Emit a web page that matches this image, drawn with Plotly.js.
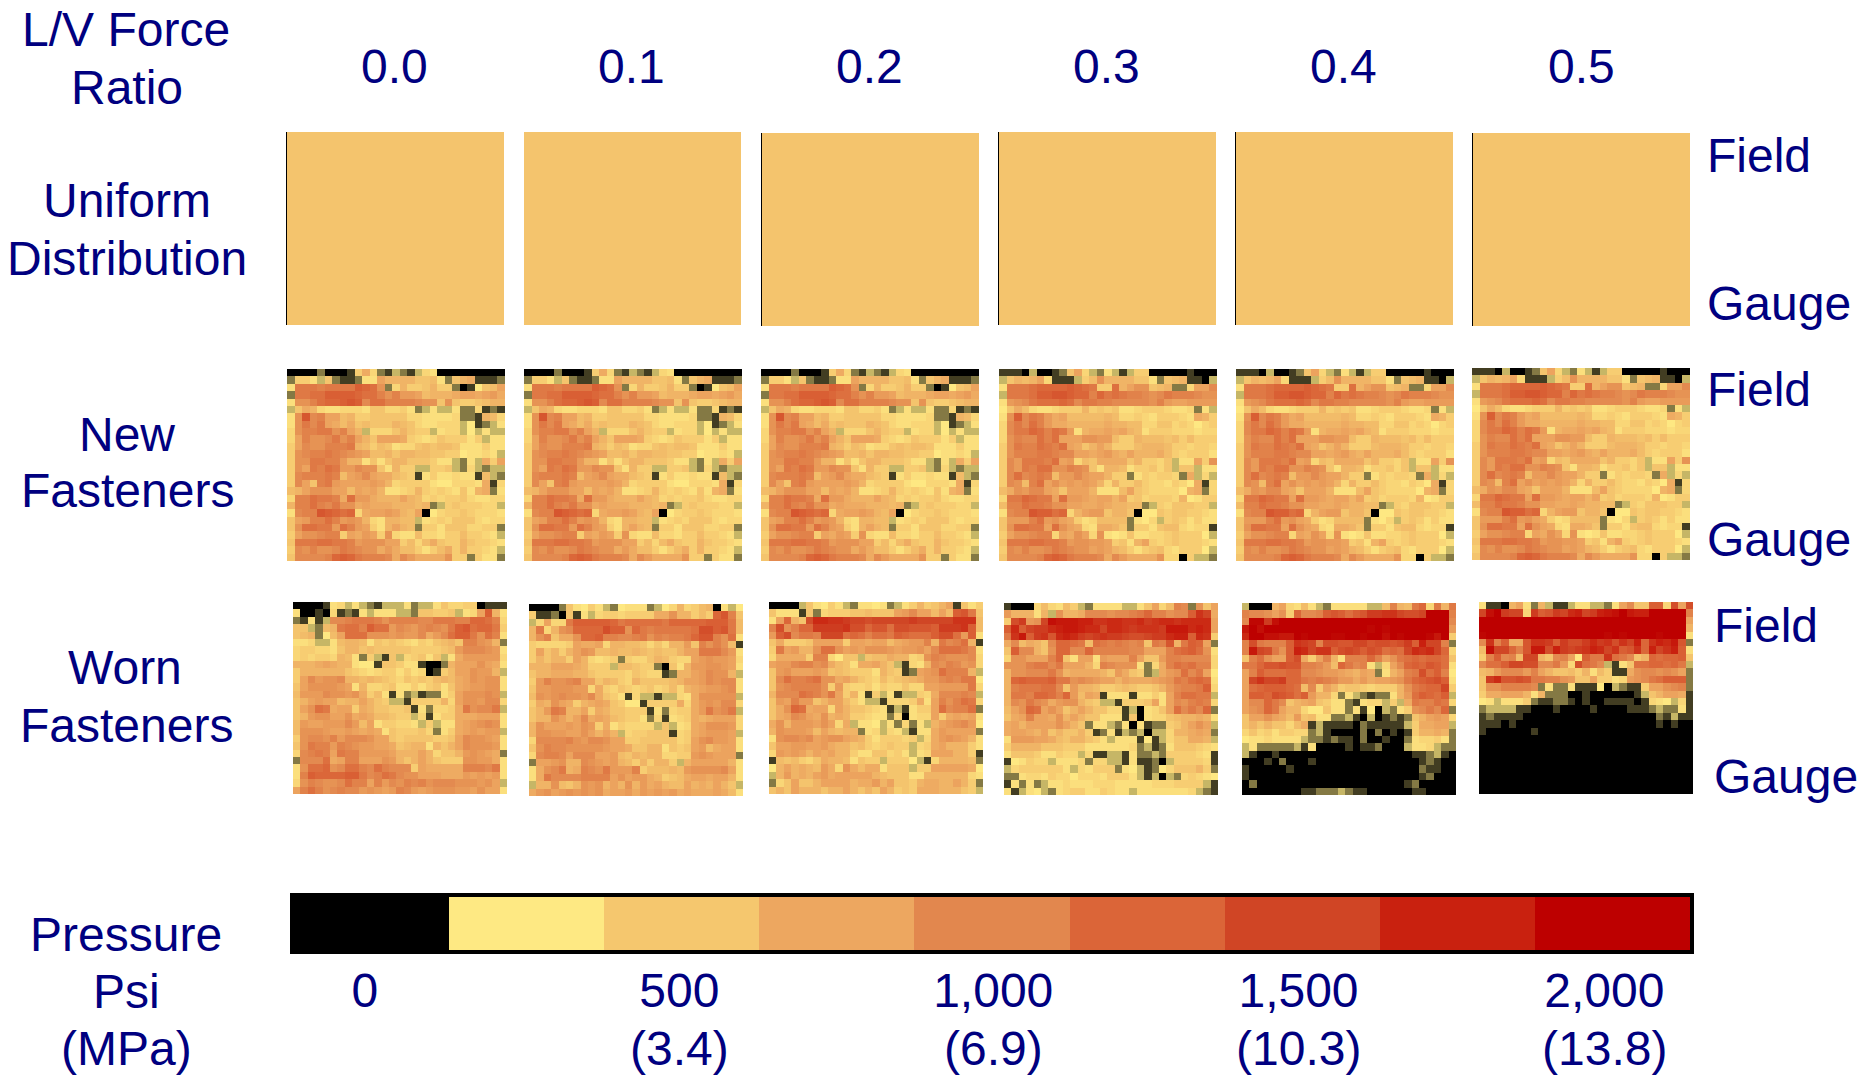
<!DOCTYPE html>
<html>
<head>
<meta charset="utf-8">
<script src="https://cdn.plot.ly/plotly-3.0.1.min.js"></script>
<style>html,body{margin:0;padding:0;background:#fff}#chart{width:1860px;height:1075px}</style>
</head>
<body>
<div id="chart"></div>
<script>
// Each character is one cell, in steps of about 65 psi (base 36: 0 = 0 psi, 8 = about 500, g = about 1000, w = full scale).
const forceRatios = ["0.0","0.1","0.2","0.3","0.4","0.5"];
const uniformPressure = 520;
const newEarly = [
"0000200017 b6213213 65000000000",
"2775382112 55caaaa889 528ab1112",
"5hhhghhhhk jie26a778a 77201489c",
"2hhiikkkkj iigegddc9a aabccbcdb",
"5eegijjklk fiiggggfee 8e87789aa",
"38ba655666 5886675235 335226121",
"5elfgcc9a7 7888886655 556221a96",
"5ehfhcb9b8 9888a98655 666341235",
"6egghhegca 36668a8773 566343533",
"6cgeefhegc a8cccb7656 877757355",
"7cfeegggha 9798566898 998555755",
"7efgghgfed c99a8aa998 877455653",
"7eehhggdaa 5858aa8887 553253b7c",
"7echgihddf ee85a77337 783263233",
"7fggghg9cd fcbb987157 556551932",
"7fc8ghdccc cdca677775 446665b16",
"9aceeecc9c bca5567a76 76585ab25",
"6ggihhgbid dbaaaca967 677865566",
"aggigfheeb cbbbaaa9a2 378777663",
"5fgglkjij6 bccdca9c04 677876665",
"8cdggigded a65aa99356 768886566",
"8eiihhdigd c75aca9277 588866772",
"7ceefgg7cb dc7e655966 577977653",
"8hhhiihhgd eeecc7969b 877a87765",
"7fegeefhgf eebdb99757 9b7a77653",
"8ffffgjkjh gggfbfdbbb be7727552"];
const newLate = [
"1110300128 c632531377 000001000",
"38a9ac6111 379eaaaa88 5289a1103",
"5hhhijjjjk jih77iacee 89a226ccf",
"3hhhikkllk jjgjhihggf efhgggfee",
"5defhiiiji fhhggfffff egdccdddd",
"48b9655677 7a78785567 776556253",
"5ekfhgdbc9 9999a96676 577765ba7",
"6fhfigdbba aaaabaa996 688676467",
"6fhhjigihd 5abbcbca95 777666566",
"6egffigicc ceedd977a9 998979777",
"7ehggihgic b8aca7779a aa9776776",
"7eggghhgff ccbcdbacaa ab9767775",
"7fdhhhgicd 698bbbb8a7 768355c7e",
"7fdhgiieeg fe85aa9577 868388355",
"7fifghg9dd fdcca77257 67762b363",
"7fe9gicecd cdca6a7797 665764b16",
"9bedffcb8c cca5559c87 66664ab26",
"6hhjihhcid dcbccac786 7776a4577",
"9ggihhgeec cbbcbaa992 376888773",
"5fgglkkij6 acdd8aa804 487887765",
"8dddgidecb 7569999254 637875755",
"8eiihhciec b65bba8277 589965661",
"7ceefgg6cb ec6e545855 667877743",
"8hhhiihhgd eeddc785ac 767877765",
"7fegeefhgf eecdca9757 896577743",
"8ffffgjkjh gggfbfdbbb be6607332"];
const worn00 = [
"0000156353 2133352335 866770111",
"5001061215 3555332887 78356cka5",
"21513ffghh hgeggggffh hhggjjig6",
"88329ahiig kiidfedfgf ehklijjh7",
"89a249ciii eeededdfbd fikkheig5",
"5563359aa9 5878765768 9a8ggeda2",
"6776658aa8 9888887777 89dfffed5",
"676776a952 7318367858 35bddddd6",
"aaabcbaa54 4188755100 2acccecb5",
"7aaaaaa876 5677575601 79ccedda3",
"7cfdeefaa9 a987687879 a9bcedee5",
"8ceeeedc5a 6678557578 58bcddee5",
"9dddfeedeb 7951523122 57ceeefe3",
"8acdcc9aac a873317777 a6ceedff6",
"8ceihbcc7b a887781526 67bheffh3",
"8adeeccebc b998773615 77bbbccc5",
"9dccdddfd9 c577665373 55bcdefe5",
"9eeedccdcb cb58777862 57bcdcdd3",
"7effegdfff ecc8788887 78cfeedc5",
"8ehggdgfed dccb89aa5a 8acfeeed5",
"6fghgchggd dddcaaaca6 88adedcb2",
"2fffibcggc cceda8aca8 777eeddb5",
"5eiijefiig figfff7cbb bbbgggfh5",
"5gkjjjjkkh fgihfeeccc bbbdcdcd5",
"6egfeefigg cgdfegfgef ffeeedec3",
"cgigefgffd edcdgfdcde eeddcecc5"];
const worn01 = [
"0000285475 3245552346 a679a0534",
"7112081536 7767777bbe aa797jlg8",
"36c66hkkkk kjhiiiiihj jjjjkkkh9",
"ah6aefjjjj mkkejhghhh hhimmklh9",
"aeg8bbejjk ggffghegfg ghjllgei5",
"766667cbbc 6aa998686a ad8gege91",
"7c8a7aced9 9a99a98988 acchhhfd5",
"7a8aa7ca65 6727668a97 66cdeddc6",
"aaacccba77 7399877208 5addeedc5",
"8aabbbaa87 7776876612 aacdfeea3",
"7dgeefgcc8 a976a88889 accdfeff5",
"8ddeeedd6b 7687678679 6abcddef5",
"9edefeedfb 8751633133 65beeeee3",
"7baecb7abc b874417777 b6bdedff6",
"8adhgaac7b a887771526 77bdhefh3",
"8aaecacfbc b987752615 67babccc6",
"aecccdced7 b576666383 56bceeed6",
"aeeddcceca ca36778881 67bcdddc3",
"6ffffgedff ecc7788888 67cefddc5",
"8egffeeeee dccb88aa58 78cd9bcc5",
"6fggfcfffc cd98a9aa66 77dedccc2",
"2ccdeaafed cda97a7aa7 3accccca5",
"5befhabgfe hdddg7999a 9deeeefc5",
"5bhffffggg gcecddba78 9bccbcca5",
"3aae98aede acaeadbca9 9cabaca83",
"bdecdedede bccdbdcdcd bcbbbcb95"];
const worn02 = [
"0000385475 3255452357 a78ac1857",
"8555182677 7889888cdf cc9c9klh8",
"5cja8mqqpp onnmnnnnno nnnnnppp9",
"gmegjjoooo pmmjllimml llkooopk9",
"dkmfhhgnnn ijigiihkji iikmmidk5",
"8b7778cccc 7ccbcc9bcd dgahfgia1",
"7hcdaaeiie cdceeedcdd ecfiiihf5",
"6bbbb7gg64 883899baa6 7egfeeef6",
"cddfggefb9 85bbca8316 5afegfde6",
"8decccdc89 87775a8712 cdeiggga3",
"8figghieeb ca8769789a bddfgfhh4",
"8efgggge7d 7667576686 6ccddddh6",
"afffihgehc 7a51735133 76bfffgf3",
"8dcgdd8acc 9753316667 b5cgegih6",
"8bejibcc6c a887651315 77cifggi2",
"8bcfecbeab a776552605 66c7bcbc5",
"beadddcec6 b355435262 53acdefd4",
"aedddc9ca9 aa25636531 55bdcccc2",
"5effefcdee cba7577767 36bdedca5",
"8ccddccdba a897678773 67bcaaa75",
"6dcdcacbca a755886753 56cccaa71",
"1989768baa 9587737774 316aaaa92",
"4acaba9db6 eb9bb58883 77cccccb4",
"3adabacdbc cccca98885 5aaaaaa65",
"268c88accc cabbdac887 abbaaca72",
"8a8caaa8aa ca8a8ca787 bbbaaa873"];
const worn03 = [
"1000696597 3255553358 c69gf2e8c",
"daaa5a3eaa bfffeffghj ggeffkpnb",
"7modentsss rrppqqppqo pqqpqqqqc",
"kqknooqrss rqqnqqpopp posssqrqc",
"hpskoplqrq onopoonmmn ooqrrkqp7",
"bf9ba8fjji h9ihghgfg8 hglahkjc2",
"8kffa8ejjf fjgggggffc ccgijkie5",
"6eecccgj85 cc5dcccgc8 8dggffff6",
"eeeghhfhcc ca6gfeee52 6bgihigg6",
"aeefffheab bbba8db872 3bdeifhc4",
"ajkjjjkhhe fedccacbbb cdehgiji5",
"aghhhiif8d aa97789877 8adfgghk6",
"ahhgjjigjd 9cb1555155 75cgiihh3",
"afehfebdee a873317778 c5cfeghg6",
"9cejicec8a ca88661305 68cifhfj2",
"8bcgccbeac a885551805 6689aaba5",
"bcacccceca 8255325051 2278acec3",
"bccbac8a88 a712513230 336aabcb2",
"5dddccb98a a875355514 13688bba3",
"7aaaa88877 7555555623 125888765",
"5888755766 3611331522 327777651",
"1457663555 6266331511 203777761",
"3677777753 6577725431 246888a72",
"2256657664 6665777531 303267654",
"1525235565 5566655555 666777731",
"5135432567 7557655355 555556321"];
const worn04 = [
"3000ac6595 3255555339 ga9hj6hah",
"gffece7jff gklkikloop pnmmnwwwg",
"fuuotwwwwv wwvwwvwwww wwwwwwwwf",
"swtwwwwwww wwwwwvvuwu wwwwwwwwd",
"qwwttssvuv vvuuvvuvvt vuvwvusw7",
"gmhgggkpon gmmllnnlmm lmokrnng2",
"gsnmhekrqn ppkmnmkmli jinqpqnj6",
"8giecckmb7 cga5gggjgc ehijijji8",
"hhjllmllgg fd9jhfg536 cfjkjlki5",
"cgkiiijjff eddcbacb25 acghmikg4",
"cnpnnojjhg hgfddbdbcc dehjklmk5",
"cijkkkji9f 7ca7887677 7aehijjn7",
"ckkjmlkikd aa62532122 5adikjik3",
"cffjhf8abc 8755215663 73bhggih6",
"cefjhcaa64 4855251403 257efhfj2",
"8ccecb9d89 5522310301 2128acdc6",
"8a8a8869b1 3111102111 1137bbcc3",
"6867577662 3100002020 1017aaba2",
"4556555532 2121102001 002566752",
"3522222315 0000101120 003556322",
"3100100000 0000000000 000112310",
"0001020001 0000000000 000012100",
"1000001000 0000000000 000021100",
"1000000000 0000000000 000012000",
"0200000000 0000000000 001200000",
"0000000011 2223211000 000110000"];
const worn05 = [
"5110ac52a3 113553325c f88kk6mcm",
"ntwonn6okl onqrnorstv srrvwwwwg",
"wwwwwwwwww wwwwwwwwww wwwwwwwwc",
"wwwwwwwwww wwwwwwwwww wwwwwwwwa",
"uwwwwwwwww wwwwvvwuvu vwwwuwww5",
"fpgkbblppo kommoqopmp nrjprqsl2",
"9tnnjglssm ronoprqnpk lpjrnprk5",
"7gkfg9nna8 fgc4khhpih f8ajijjk8",
"fiiknnmmff hd6mihf315 8iijjijh3",
"9adfffdgca 8897a59711 beffefec2",
"8oqllmlhhg ged88c7756 defhikkk2",
"8eeggggf25 2251114032 117ccefg2",
"7bbccca5a2 2200100000 0138accb1",
"4535557211 2210100111 101654361",
"2333311000 1000010000 111232251",
"1211110000 0000000000 000021311",
"1110100000 0000000000 000010100",
"1000000100 0000000000 000000000",
"0000000000 0000000000 000000000",
"0000000000 0000000000 000000000",
"0000000000 0000000000 000000000",
"0000000000 0000000000 000000000",
"0000000000 0000000000 000000000",
"0000000000 0000000000 000000000",
"0000000000 0000000000 000000000",
"0000000000 0000000000 000000000"];
const newPanels = [newEarly, newEarly, newEarly, newLate, newLate, newLate];
const wornPanels = [worn00, worn01, worn02, worn03, worn04, worn05];
const legendPsi = [0, 250, 500, 750, 1000, 1250, 1500, 1750, 2000];
const psiLabels = ["0", "500", "1,000", "1,500", "2,000"];
const mpaLabels = ["", "(3.4)", "(6.9)", "(10.3)", "(13.8)"];
const bandColors = ["#000000","#FEE983","#F5C76E","#EDA760","#E2874E","#DB6538","#D04525","#C9210F","#BD0000"];

// Layout, in page pixels or axis units
const labelAnchors = [-11, 496, 1002, 1494, 1987];
const W = 1860, H = 1075, PSI_STEP = 65, FONT = 48, NAVY = "#000080";
const uniformBoxes = [[287,132],[524,132],[762,133],[999,132],[1236,132],[1473,133]];
const newBoxes = [[287,369],[524,369],[761,369],[999,369],[1236,369],[1472,368]];
const wornBoxes = [[293,602],[529,604],[769,602],[1004,603],[1242,603],[1479,602]];
const colorscale = bandColors.map((c,i)=>[i/(bandColors.length-1),c]);
const parseRows = rows => rows.map(r => Array.from(r.replace(/ /g,"")).map(c => parseInt(c,36)*PSI_STEP));

const data = [], layout = {
  width:W, height:H, margin:{l:0,r:0,t:0,b:0}, paper_bgcolor:"#fff", plot_bgcolor:"#fff",
  showlegend:false, annotations:[], font:{family:"Liberation Sans, Arial, sans-serif", size:FONT, color:NAVY}
};
let axisN = 0;
function addPanel(z, x0, y0, w, h, leftLine, extra){
  axisN++;
  const sfx = axisN===1?"":String(axisN);
  data.push(Object.assign({type:"heatmap", z:z, xaxis:"x"+sfx, yaxis:"y"+sfx, zmin:0, zmax:2000, colorscale:colorscale,
    showscale:false, zsmooth:false, hoverinfo:"skip"}, extra||{}));
  const rows = z.length, cols = z[0].length;
  layout["xaxis"+sfx] = {domain:[x0/W,(x0+w)/W], range:[-0.5,cols-0.5], anchor:"y"+sfx, showgrid:false, zeroline:false,
    showticklabels:false, ticks:"", showline:false, fixedrange:true};
  layout["yaxis"+sfx] = {domain:[1-(y0+h)/H,1-y0/H], range:[rows-0.5,-0.5], anchor:"x"+sfx, showgrid:false, zeroline:false,
    showticklabels:false, ticks:"", showline:!!leftLine, linecolor:"#000", linewidth:1, fixedrange:true};
  return sfx;
}
uniformBoxes.forEach((b,i)=>addPanel([[uniformPressure]], b[0], b[1], 217, 193, i!==1));
newBoxes.forEach((b,i)=>addPanel(parseRows(newPanels[i]), b[0], b[1], 218, 192, false));
wornBoxes.forEach((b,i)=>addPanel(parseRows(wornPanels[i]), b[0], b[1], 214, 192, false));

// Legend bar
const s = addPanel([legendPsi], 294, 897, 1396, 53, false, {x:legendPsi});
Object.assign(layout["xaxis"+s], {range:[-125,2125], tickvals:labelAnchors, ticktext:psiLabels, showticklabels:true,
  tickmode:"array", showline:true, mirror:true, linecolor:"#000", linewidth:4, ticklabelstandoff:-5,
  tickfont:{family:"Liberation Sans, Arial, sans-serif", size:FONT, color:NAVY}});
Object.assign(layout["yaxis"+s], {range:[-0.5,0.5], showline:true, mirror:true, linecolor:"#000", linewidth:4});

function label(text, x, y, anchor){
  layout.annotations.push({text:text, x:x/W, y:1-y/H, xref:"paper", yref:"paper", xanchor:anchor||"center", yanchor:"middle",
    showarrow:false, font:{family:"Liberation Sans, Arial, sans-serif", size:FONT, color:NAVY}});
}
[["L/V Force",126,29],["Ratio",127,87],["Uniform",127,200],["Distribution",127,258],["New",127,434],["Fasteners",127,491],
 ["Worn",125,667],["Fasteners",126,725],["Pressure",126,934],["Psi",126,991],["(MPa)",126,1048]].forEach(t=>label(t[0],t[1],t[2]));
[394,631,869,1106,1343,1581].forEach((x,i)=>label(forceRatios[i],x,67));
[[1705,155,304],[1705,389,539],[1712,625,776]].forEach(r=>{label("Field",r[0],r[1],"left");label("Gauge",r[0],r[2],"left");});
// Bottoms of the cropped top title's brackets
label("(",743,-27); label(")",905,-27);
mpaLabels.forEach((t,i)=>{ if(t) layout.annotations.push({text:t, x:labelAnchors[i], xref:"x"+s, y:1-1048/H, yref:"paper",
  xanchor:"center", yanchor:"middle", showarrow:false, font:{family:"Liberation Sans, Arial, sans-serif", size:FONT, color:NAVY}}); });

Plotly.newPlot("chart", data, layout, {displayModeBar:false, staticPlot:true});
</script>
</body>
</html>
